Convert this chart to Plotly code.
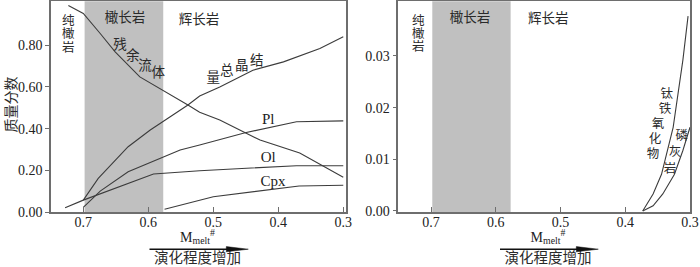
import plotly.graph_objects as go

# ---- data (left panel: mass fraction vs Mg#melt) ----
residual_x = [0.723, 0.700, 0.674, 0.651, 0.613, 0.577, 0.539, 0.521, 0.490, 0.428, 0.367, 0.300]
residual_y = [0.990, 0.952, 0.856, 0.768, 0.648, 0.584, 0.513, 0.478, 0.441, 0.345, 0.283, 0.167]

total_x = [0.700, 0.677, 0.631, 0.597, 0.539, 0.521, 0.490, 0.439, 0.392, 0.336, 0.300]
total_y = [0.057, 0.161, 0.313, 0.393, 0.513, 0.556, 0.600, 0.680, 0.720, 0.784, 0.840]

pl_x = [0.700, 0.674, 0.631, 0.551, 0.521, 0.451, 0.372, 0.300]
pl_y = [0.022, 0.100, 0.193, 0.297, 0.321, 0.380, 0.433, 0.437]

ol_x = [0.728, 0.700, 0.592, 0.551, 0.521, 0.372, 0.300]
ol_y = [0.020, 0.057, 0.182, 0.193, 0.198, 0.222, 0.222]

cpx_x = [0.575, 0.500, 0.368, 0.300]
cpx_y = [0.013, 0.073, 0.125, 0.128]

# ---- data (right panel) ----
oxide_x = [0.373, 0.357, 0.344, 0.326, 0.311, 0.303]
oxide_y = [0.000, 0.0033, 0.0071, 0.0162, 0.0292, 0.0377]
apatite_x = [0.373, 0.357, 0.342, 0.324, 0.311, 0.300]
apatite_y = [0.000, 0.0010, 0.0033, 0.0071, 0.0117, 0.0162]

# rock-type band (troctolite)
band_x = [0.698, 0.577]

x_ticks = [0.7, 0.6, 0.5, 0.4, 0.3]
y_ticks_left = [0.0, 0.2, 0.4, 0.6, 0.8]
y_ticks_right = [0.0, 0.01, 0.02, 0.03]

LINE = dict(color="#3c3c3c", width=1.1)
W, H = 700, 267

CJK = dict(family="Noto Sans CJK SC", size=13.5, color="#2a2a2a")
CJKV = dict(family="Noto Sans CJK SC", size=12.5, color="#2a2a2a")
SER = dict(family="Liberation Serif", size=15, color="#222")

fig = go.Figure()
for xs, ys in [(residual_x, residual_y), (total_x, total_y), (pl_x, pl_y),
               (ol_x, ol_y), (cpx_x, cpx_y)]:
    fig.add_trace(go.Scatter(x=xs, y=ys, mode="lines", line=LINE,
                             xaxis="x", yaxis="y", showlegend=False, hoverinfo="skip"))
for xs, ys in [(oxide_x, oxide_y), (apatite_x, apatite_y)]:
    fig.add_trace(go.Scatter(x=xs, y=ys, mode="lines", line=LINE,
                             xaxis="x2", yaxis="y2", showlegend=False, hoverinfo="skip"))


def txt(text, x, y, xr="x", yr="y", font=CJK):
    fig.add_trace(go.Scatter(x=[x], y=[y], mode="text", text=[text], textfont=font,
                             textposition="middle center", xaxis=xr, yaxis=yr,
                             showlegend=False, hoverinfo="skip", cliponaxis=False))


# left panel labels
for ch, yy in zip("纯橄岩", [0.9116, 0.8479, 0.7842]):
    txt(ch, 0.7231, yy, font=CJKV)
txt("橄长岩", 0.6358, 0.928)
txt("辉长岩", 0.522, 0.92)
for ch, xx, yy in zip("残余流体", [0.6434, 0.624, 0.605, 0.5846], [0.800, 0.747, 0.699, 0.664]):
    txt(ch, xx, yy)
for ch, xx, yy in zip("量总晶结", [0.500, 0.4794, 0.4563, 0.4332], [0.640, 0.672, 0.696, 0.720]):
    txt(ch, xx, yy)
txt("Pl", 0.4154, 0.4407, font=SER)
txt("Ol", 0.4154, 0.257, font=SER)
txt("Cpx", 0.408, 0.144, font=SER)

# right panel labels
for ch, yy in zip("纯橄岩", [0.03662, 0.03404, 0.03147]):
    txt(ch, 0.7196, yy, "x2", "y2", font=CJKV)
txt("橄长岩", 0.6398, 0.03727, "x2", "y2")
txt("辉长岩", 0.5188, 0.03694, "x2", "y2")
for ch, xx, yy in zip("钛铁氧化物", [0.3360, 0.3386, 0.3494, 0.354, 0.3571],
                      [0.0224, 0.0195, 0.0166, 0.0137, 0.0108]):
    txt(ch, xx, yy, "x2", "y2", font=CJKV)
for ch, xx, yy in zip("磷灰岩", [0.3128, 0.3232, 0.3309], [0.01437, 0.01116, 0.0079]):
    txt(ch, xx, yy, "x2", "y2", font=CJKV)

# x titles under each panel (pixel-space helper axes x3/y3)
for cx in [197.5, 548]:
    txt("M<sub>melt</sub><sup>#</sup>", cx, 238, "x3", "y3",
        font=dict(family="Liberation Serif", size=14, color="#222"))
    txt("演化程度增加", cx, 259.8, "x3", "y3", font=dict(CJK, size=14.5))

AX = dict(showline=True, mirror=True, linecolor="#6e6e6e", linewidth=1.5,
          showgrid=False, zeroline=False, tickcolor="#6e6e6e", tickwidth=1.2,
          automargin=False,
          tickfont=dict(family="Liberation Serif", size=14, color="#222"))
ydom = [55 / H, 1 - 1.2 / H]

fig.update_layout(
    width=W, height=H, margin=dict(l=0, r=0, t=0, b=0, pad=0, autoexpand=False),
    plot_bgcolor="rgba(0,0,0,0)", paper_bgcolor="white",
    xaxis=dict(AX, domain=[51 / W, 346 / W], range=[0.7497, 0.2958],
               tickvals=x_ticks, tickformat=".1f", ticks="inside", ticklen=5,
               ticklabelstandoff=-4, anchor="y"),
    yaxis=dict(AX, domain=ydom, range=[0, 1.011], tickvals=y_ticks_left,
               tickformat=".2f", ticks="outside", ticklen=4, anchor="x"),
    xaxis2=dict(AX, domain=[398.3 / W, 690 / W], range=[0.7505, 0.3],
                tickvals=x_ticks, tickformat=".1f", ticks="inside", ticklen=5,
                ticklabelstandoff=-4, anchor="y2"),
    yaxis2=dict(AX, domain=ydom, range=[-0.0002, 0.0406], tickvals=y_ticks_right,
                tickformat=".2f", ticks="outside", ticklen=4, anchor="x2"),
    xaxis3=dict(domain=[0, 1], range=[0, W], visible=False, anchor="y3", fixedrange=True),
    yaxis3=dict(domain=[0, 1], range=[H, 0], visible=False, anchor="x3", fixedrange=True),
)

# gray band
for xr in ["x", "x2"]:
    yr = "y" if xr == "x" else "y2"
    fig.add_shape(type="rect", xref=xr, yref=yr + " domain", x0=band_x[0], x1=band_x[1],
                  y0=0, y1=1, fillcolor="#c0c0c0", line_width=0, layer="below")

# y-axis title
fig.add_annotation(text="质量分数", x=9.5 / W, y=1 - 105 / H, xref="paper", yref="paper",
                   showarrow=False, textangle=-90, font=dict(CJK, size=14),
                   xanchor="center", yanchor="middle")

# arrows
for x0, x1 in [(149.5, 248.3), (500, 598.3)]:
    ya = 1 - 249.2 / H
    fig.add_shape(type="line", xref="paper", yref="paper", x0=x0 / W, x1=(x1 - 20) / W,
                  y0=ya, y1=ya, line=dict(color="#111", width=1.6))
    fig.add_shape(type="path", xref="paper", yref="paper",
                  path=f"M {(x1 - 22) / W},{1 - 246.6 / H} L {x1 / W},{ya} L {(x1 - 22) / W},{1 - 251.8 / H} Z",
                  fillcolor="#111", line=dict(color="#111", width=0.5))

fig.write_html("out.html", config={"displayModeBar": False},
               post_script="document.body.style.margin='0';document.body.style.overflow='hidden';")
